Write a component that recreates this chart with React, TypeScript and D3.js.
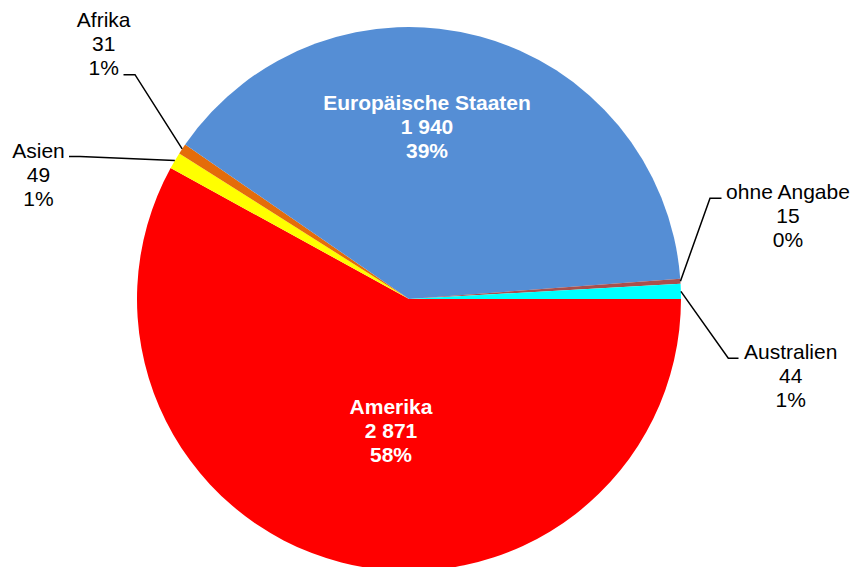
import React from "react";
import * as d3 from "d3";

const categories = ["Amerika", "Asien", "Afrika", "Europäische Staaten", "ohne Angabe", "Australien"];
const values = [2871, 49, 31, 1940, 15, 44];
const valueLabels = ["2 871", "49", "31", "1 940", "15", "44"];
const percentLabels = ["58%", "1%", "1%", "39%", "0%", "1%"];
const colors = ["#FF0000", "#FFFF00", "#E46C0A", "#558ED5", "#A9504D", "#00FFFF"];

// label layout: inside labels (white bold) or outside with leader elbow
type Layout = { inside: boolean; x: number; y: number; elbow?: [number, number]; end?: [number, number] };
const layouts: Layout[] = [
  { inside: true, x: 391, y: 414 },
  { inside: false, x: 38.5, y: 158.3, elbow: [80, 156.5], end: [69, 156.5] },
  { inside: false, x: 103.7, y: 26.7, elbow: [135, 74.7], end: [123.5, 74.7] },
  { inside: true, x: 427, y: 110 },
  { inside: false, x: 788, y: 199.3, elbow: [710, 198.3], end: [721.5, 198.3] },
  { inside: false, x: 790.7, y: 359, elbow: [728.3, 358.3], end: [738.5, 358.3] },
];

const W = 856;
const H = 567;
const cx = 409;
const cy = 299;
const R = 272;
const LINE = 24;

export default function App() {
  const pie = d3
    .pie<number>()
    .sort(null)
    .value((d) => d)
    .startAngle(Math.PI / 2)
    .endAngle(Math.PI / 2 + 2 * Math.PI);
  const arcs = pie(values);
  const arc = d3.arc<d3.PieArcDatum<number>>().innerRadius(0).outerRadius(R);

  return (
    <svg
      width={W}
      height={H}
      style={{ position: "absolute", left: 0, top: 0, background: "#fff" }}
      fontFamily="'Liberation Sans', Arial, sans-serif"
    >
      <g transform={`translate(${cx},${cy})`}>
        {arcs.map((a, i) => (
          <path key={i} d={arc(a) || ""} fill={colors[i]} />
        ))}
      </g>
      {arcs.map((a, i) => {
        const L = layouts[i];
        const mid = (a.startAngle + a.endAngle) / 2;
        const px = cx + R * Math.sin(mid);
        const py = cy - R * Math.cos(mid);
        const lines = [categories[i], valueLabels[i], percentLabels[i]];
        return (
          <g key={"l" + i}>
            {!L.inside && L.elbow && L.end && (
              <polyline
                points={`${px},${py} ${L.elbow[0]},${L.elbow[1]} ${L.end[0]},${L.end[1]}`}
                fill="none"
                stroke="#000"
                strokeWidth={1.5}
              />
            )}
            <text
              textAnchor="middle"
              fontSize={21}
              fontWeight={L.inside ? "bold" : "normal"}
              fill={L.inside ? "#fff" : "#000"}
            >
              {lines.map((t, k) => (
                <tspan key={k} x={L.x} y={L.y + k * LINE}>
                  {t}
                </tspan>
              ))}
            </text>
          </g>
        );
      })}
    </svg>
  );
}
